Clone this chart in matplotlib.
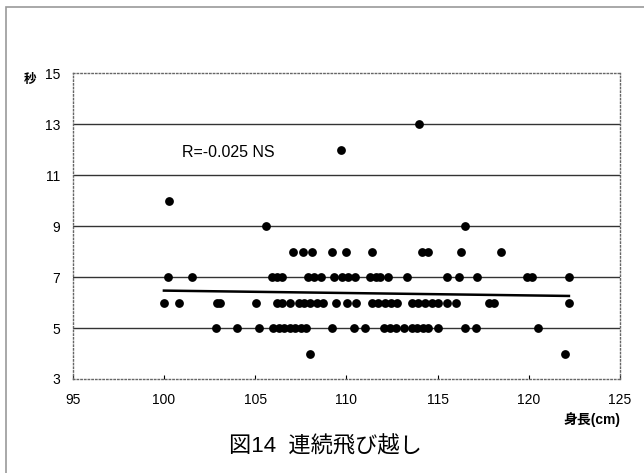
import numpy as np
import matplotlib.pyplot as plt
from matplotlib.patches import Rectangle

plt.rcParams['font.family'] = ['Liberation Sans', 'Noto Sans CJK JP']

# -------- Datos: estatura (cm) por tiempo (s) --------
x_13 = [114.0]
x_12 = [109.7]
x_10 = [100.3]
x_9 = [105.6, 116.5]
x_8 = [107.1, 107.6, 108.1, 109.2, 110.0, 111.4, 114.15, 114.5, 116.3, 118.45]
x_7 = [100.2, 101.55, 105.9, 106.2, 106.5, 107.9, 108.2, 108.6, 109.3, 109.75,
       110.1, 110.5, 111.3, 111.6, 111.85, 112.3, 113.3, 115.5, 116.2, 117.15,
       119.9, 120.2, 122.2]
x_6 = [100.0, 100.8, 102.9, 103.1, 105.05, 106.2, 106.5, 106.9, 107.4, 107.7,
       108.0, 108.4, 108.7, 109.45, 110.05, 110.55, 111.4, 111.75, 112.1, 112.45,
       112.8, 113.6, 113.95, 114.3, 114.7, 115.0, 115.5, 116.0, 117.8, 118.1, 122.2]
x_5 = [102.85, 104.0, 105.2, 106.0, 106.3, 106.6, 106.9, 107.2, 107.5, 107.8,
       109.2, 110.4, 111.0, 112.05, 112.4, 112.7, 113.15, 113.6, 113.9, 114.2,
       114.45, 115.0, 116.5, 117.1, 120.5]
x_4 = [108.0, 122.0]

grupos = {13: x_13, 12: x_12, 10: x_10, 9: x_9, 8: x_8, 7: x_7, 6: x_6, 5: x_5, 4: x_4}

trend_x = [100.0, 122.2]
trend_y = [6.47, 6.26]

xticks = [95, 100, 105, 110, 115, 120, 125]
yticks = [3, 5, 7, 9, 11, 13, 15]

# -------- Gráfica --------
fig = plt.figure(figsize=(6.44, 4.73), dpi=100)
fig.patches.append(Rectangle((6 / 644, -0.1), 1.2, 1 - 7 / 473 + 0.1,
                             transform=fig.transFigure, fill=False,
                             edgecolor='#999999', lw=1.2))

ax = fig.add_axes([72.7 / 644, 1 - 379 / 473, (620 - 72.7) / 644, (379 - 73.3) / 473])

for y in yticks[1:-1]:
    ax.axhline(y, color='#333333', lw=1.0, zorder=1)

for y, xs in grupos.items():
    ax.scatter(xs, [y] * len(xs), s=40, color='black', zorder=3, linewidths=0)

ax.plot(trend_x, trend_y, color='black', lw=1.8, zorder=2)

ax.text(101.0, 11.9, "R=-0.025 NS", fontsize=11.5, va='center', ha='left')

ax.set_xlim(95, 125)
ax.set_ylim(3, 15)
ax.set_xticks(xticks)
ax.set_yticks(yticks)
ax.tick_params(axis='x', direction='in', length=3, labelsize=10, pad=10)
ax.tick_params(axis='y', length=0, labelsize=10, pad=9)
for s in ax.spines.values():
    s.set_color('#666666')
    s.set_linestyle(':')
    s.set_linewidth(1.0)

fig.text(30 / 644, 1 - 80 / 473, "秒", fontsize=9, fontweight='bold', ha='center', va='center')
fig.text(592 / 644, 1 - 420 / 473, "身長(cm)", fontsize=10, fontweight='bold', ha='center', va='center')
fig.text(325 / 644, 1 - 447 / 473, "図14  連続飛び越し", fontsize=16, ha='center', va='center')

plt.savefig("out.png", dpi=100)
